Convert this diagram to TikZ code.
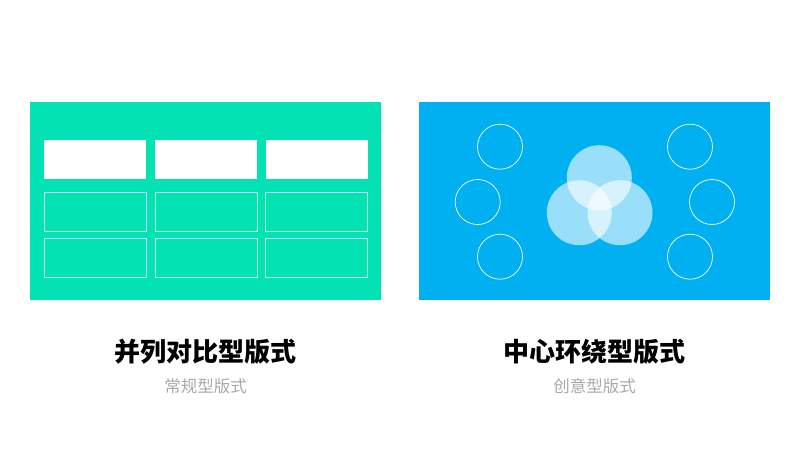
\documentclass[tikz,border=0pt]{standalone}
\usepackage{fontspec}
\newfontfamily\cjk{Noto Sans CJK SC}
\definecolor{panelgreen}{HTML}{02E2B2}
\definecolor{panelblue}{HTML}{00B0F0}
\definecolor{subgray}{HTML}{A8A8A8}

\begin{document}
\begin{tikzpicture}[x=1pt, y=-1pt,
    panel/.style = {inner sep=0pt, outer sep=0pt, minimum width=351pt, minimum height=198pt},
    cellfull/.style = {fill=white, inner sep=0pt, minimum width=102pt, minimum height=39pt},
    cellline/.style = {draw=white, draw opacity=0.75, line width=0.8pt, inner sep=0pt, minimum width=102pt, minimum height=39pt},
    ring/.style = {circle, draw=white, line width=0.7pt, inner sep=0pt, minimum size=45pt},
    petal/.style = {circle, fill=white, fill opacity=0.6, inner sep=0pt, minimum size=65pt},
    title/.style = {font=\cjk\bfseries\fontsize{26}{30}\selectfont, text=black},
    subtitle/.style = {font=\cjk\fontsize{16.5}{20}\selectfont, text=subgray}]

    \useasboundingbox (0,0) rectangle (800,450);

    % Panels
    \node[panel, fill=panelgreen] (left) at (205.5,201) {};
    \node[panel, fill=panelblue] (right) at (594.5,201) {};

    % Table cells
    \foreach \c/\x in {1/94.9, 2/206, 3/316.7} {
        \node[cellfull] (head\c) at (\x,159) {};
        \node[cellline] (rowa\c) at (\x,211.5) {};
        \node[cellline] (rowb\c) at (\x,257.8) {};
    }

    % Side rings
    \node[ring] (lt) at (500,146.7) {};
    \node[ring] (lm) at (477.7,202) {};
    \node[ring] (lb) at (500,256.7) {};
    \node[ring] (rt) at (690,146.7) {};
    \node[ring] (rm) at (712,202) {};
    \node[ring] (rb) at (690,256.7) {};

    % Centre circles
    \node[petal] (top) at (599.3,177.7) {};
    \node[petal] (bl) at (579.3,212.7) {};
    \node[petal] (br) at (620,212.7) {};

    % Labels
    \node[title] (lefttitle) at (205.5,351.5) {并列对比型版式};
    \node[subtitle] (leftsub) at (205.5,386.5) {常规型版式};
    \node[title] (righttitle) at (594.5,351.5) {中心环绕型版式};
    \node[subtitle] (rightsub) at (594.5,386.5) {创意型版式};

\end{tikzpicture}
\end{document}
